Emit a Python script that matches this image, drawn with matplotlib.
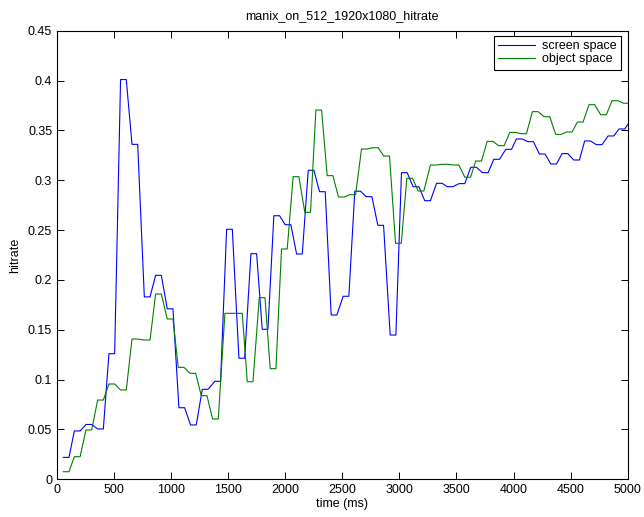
import numpy as np
import matplotlib
matplotlib.use("Agg")
import matplotlib.pyplot as plt

plt.rcParams['font.family'] = ['Liberation Sans', 'DejaVu Sans']

# Each series: start time (ms) of each held value, and the value
HOLD_MS = 50

screen_t = [55, 152, 254, 356, 455, 557, 657, 765, 864, 966, 1068, 1170, 1273,
            1383, 1486, 1594, 1699, 1798, 1900, 1999, 2099, 2201, 2300, 2402,
            2507, 2609, 2709, 2811, 2919, 3018, 3120, 3222, 3325, 3418, 3523,
            3625, 3727, 3827, 3932, 4025, 4124, 4226, 4326, 4425, 4527, 4623,
            4725, 4828, 4924, 5025]
screen_v = [0.022, 0.0485, 0.055, 0.0505, 0.126, 0.401, 0.336, 0.183, 0.2046,
            0.171, 0.0718, 0.0545, 0.0903, 0.0983, 0.2508, 0.1214, 0.2263,
            0.1505, 0.2644, 0.2554, 0.226, 0.31, 0.2885, 0.1648, 0.1836, 0.289,
            0.2835, 0.2548, 0.1447, 0.3076, 0.2935, 0.2795, 0.2969, 0.2935,
            0.2966, 0.313, 0.3076, 0.321, 0.331, 0.3414, 0.3387, 0.3263, 0.3163,
            0.3267, 0.3203, 0.3394, 0.3357, 0.3444, 0.3514, 0.36]

object_t = [55, 152, 254, 356, 455, 557, 657, 765, 864, 966, 1062, 1165, 1264,
            1363, 1471, 1573, 1667, 1772, 1868, 1967, 2069, 2171, 2268, 2367,
            2466, 2566, 2668, 2764, 2863, 2966, 3065, 3164, 3272, 3374, 3470,
            3573, 3669, 3769, 3868, 3967, 4063, 4165, 4267, 4369, 4463, 4559,
            4661, 4763, 4863, 4965]
object_v = [0.0076, 0.0227, 0.0495, 0.0795, 0.0956, 0.0896, 0.1407, 0.1397,
            0.1859, 0.1608, 0.1123, 0.1063, 0.0839, 0.0605, 0.1665, 0.1665,
            0.0979, 0.1822, 0.111, 0.231, 0.3036, 0.2678, 0.3704, 0.3046,
            0.2832, 0.2855, 0.3313, 0.3326, 0.3243, 0.2367, 0.3019, 0.2892,
            0.3153, 0.316, 0.3153, 0.303, 0.3193, 0.339, 0.3347, 0.348, 0.3467,
            0.3688, 0.3637, 0.346, 0.3484, 0.3584, 0.3758, 0.3657, 0.3798,
            0.3772]

series_labels = ["screen space", "object space"]
x_ticks = [0, 500, 1000, 1500, 2000, 2500, 3000, 3500, 4000, 4500, 5000]
y_ticks = [0, 0.05, 0.1, 0.15, 0.2, 0.25, 0.3, 0.35, 0.4, 0.45]
y_tick_labels = ['0', '0.05', '0.1', '0.15', '0.2', '0.25', '0.3', '0.35', '0.4', '0.45']


def held(t, v):
    t = np.asarray(t, float)
    v = np.asarray(v, float)
    x = np.column_stack([t, t + HOLD_MS]).ravel()
    y = np.repeat(v, 2)
    return x, y


FS = 9
fig = plt.figure(figsize=(6.44, 5.17), dpi=100)
W, H = 644, 517
left, right, top, bottom = 57, 627.7, 30.7, 479.3
ax = fig.add_axes([left / W, (H - bottom) / H, (right - left) / W, (bottom - top) / H])

xs, ys = held(screen_t, screen_v)
ax.plot(xs, ys, color=(0, 0, 1), lw=0.8, label=series_labels[0])
xo, yo = held(object_t, object_v)
ax.plot(xo, yo, color=(0, 0.5, 0), lw=0.8, label=series_labels[1])

ax.set_xlim(0, 5000)
ax.set_ylim(0, 0.45)
ax.set_xticks(x_ticks)
ax.set_xticklabels([str(v) for v in x_ticks])
ax.set_yticks(y_ticks)
ax.set_yticklabels(y_tick_labels)
ax.tick_params(direction='in', length=5, width=0.7, top=True, right=True,
               labelsize=FS, pad=3.5)
for s in ax.spines.values():
    s.set_linewidth(0.8)

ax.set_title("manix_on_512_1920x1080_hitrate", fontsize=FS, pad=8.5)
ax.set_xlabel("time (ms)", fontsize=FS, labelpad=1.5)
ax.set_ylabel("hitrate", fontsize=FS, labelpad=5)

leg = ax.legend(loc='upper right', bbox_to_anchor=((620.7 - left) / (right - left),
                                                   (bottom - 35.7) / (bottom - top)),
                borderaxespad=0, fontsize=FS, fancybox=False, framealpha=1,
                edgecolor='black', handlelength=3.0, handletextpad=0.5,
                labelspacing=0.1, borderpad=0.35)
leg.get_frame().set_linewidth(0.8)

fig.savefig("out.png", dpi=100)
